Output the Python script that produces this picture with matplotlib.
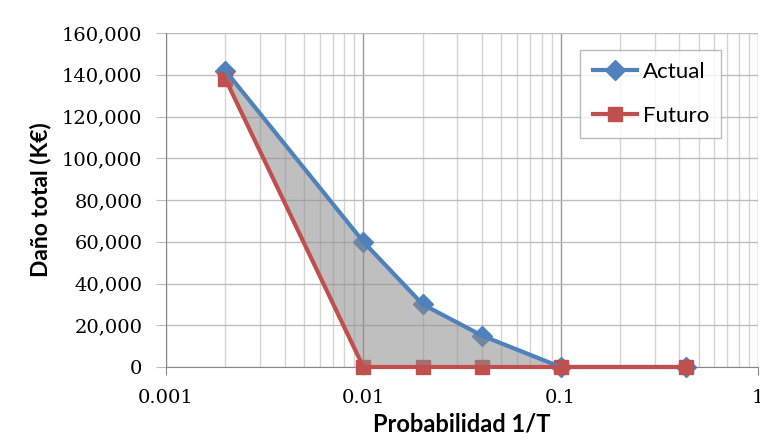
import matplotlib
matplotlib.use("Agg")
import matplotlib.pyplot as plt
from matplotlib.lines import Line2D
from matplotlib.ticker import FuncFormatter, LogLocator, NullFormatter

# Exceedance probability (1/T) and total damage in thousands of euros
prob = [0.002, 0.01, 0.02, 0.04, 0.1, 0.43]
actual = [142000, 60000, 30000, 15000, 0, 0]
futuro = [138000, 0, 0, 0, 0, 0]

x_ticks = [0.001, 0.01, 0.1, 1]
x_tick_labels = ["0.001", "0.01", "0.1", "1"]
y_ticks = list(range(0, 160001, 20000))

BLUE = "#4F81BD"
RED = "#C0504D"
SANS = ["Lato", "DejaVu Sans"]
SERIF = ["DejaVu Serif"]

plt.rcParams["font.family"] = SANS

fig = plt.figure(figsize=(7.6, 4.41), dpi=100)
ax = fig.add_axes([166 / 760, 1 - 367 / 441, (758 - 166) / 760, (367 - 33) / 441])

ax.set_xscale("log")
ax.set_xlim(0.001, 1)
ax.set_ylim(0, 160000)

# grid
ax.xaxis.set_minor_locator(LogLocator(base=10, subs=range(2, 10)))
ax.xaxis.set_minor_formatter(NullFormatter())
ax.grid(True, which="minor", axis="x", color="#D4D4D4", linewidth=1.0, zorder=0)
ax.grid(True, which="major", axis="x", color="#9A9A9A", linewidth=1.0, zorder=0)
ax.grid(True, which="major", axis="y", color="#BDBDBD", linewidth=1.0, zorder=0)

# markers sit beneath the shaded band, lines above it
ax.plot(prob, actual, linestyle="none", marker="D", markersize=10,
        color=BLUE, markeredgecolor=BLUE, zorder=3, clip_on=False)
ax.plot(prob, futuro, linestyle="none", marker="s", markersize=10.5,
        color=RED, markeredgecolor=RED, zorder=3, clip_on=False)

ax.fill_between(prob, futuro, actual, color="#8C8C8C", alpha=0.55,
                linewidth=0, zorder=4)

ax.plot(prob, actual, color=BLUE, linewidth=3, zorder=5, clip_on=False,
        solid_capstyle="round")
ax.plot(prob, futuro, color=RED, linewidth=3, zorder=5, clip_on=False,
        solid_capstyle="round")

ax.set_xticks(x_ticks)
ax.set_xticklabels(x_tick_labels, fontfamily=SERIF)
ax.set_yticks(y_ticks)
ax.yaxis.set_major_formatter(FuncFormatter(lambda v, p: f"{int(v):,}"))
for lbl in ax.get_yticklabels():
    lbl.set_fontfamily(SERIF)
ax.tick_params(axis="x", which="major", length=6, color="#888888",
               labelsize=14, pad=10)
ax.tick_params(axis="x", which="minor", length=0)
ax.tick_params(axis="y", length=7, color="#BDBDBD", labelsize=14, pad=10)

for side in ("top", "right"):
    ax.spines[side].set_visible(False)
for side in ("left", "bottom"):
    ax.spines[side].set_color("#888888")

ax.set_ylabel("Daño total (K€)", fontsize=16.5, fontweight="bold", labelpad=8)
ax.set_xlabel("Probabilidad 1/T", fontsize=17, fontweight="bold", labelpad=4)

handles = [
    Line2D([], [], color=BLUE, linewidth=3, marker="D", markersize=10),
    Line2D([], [], color=RED, linewidth=3, marker="s", markersize=10.5),
]
leg = ax.legend(handles, ["Actual", "Futuro"], loc="upper right",
                bbox_to_anchor=(721 / 760, 1 - 50 / 441),
                bbox_transform=fig.transFigure, fontsize=16, frameon=True,
                fancybox=False, edgecolor="#AAAAAA", handlelength=2.0,
                handletextpad=0.25, labelspacing=1.05, borderpad=0.55,
                borderaxespad=0)
leg.get_frame().set_linewidth(1.0)
leg.set_zorder(6)

fig.savefig("out.png", dpi=100, facecolor="white")
